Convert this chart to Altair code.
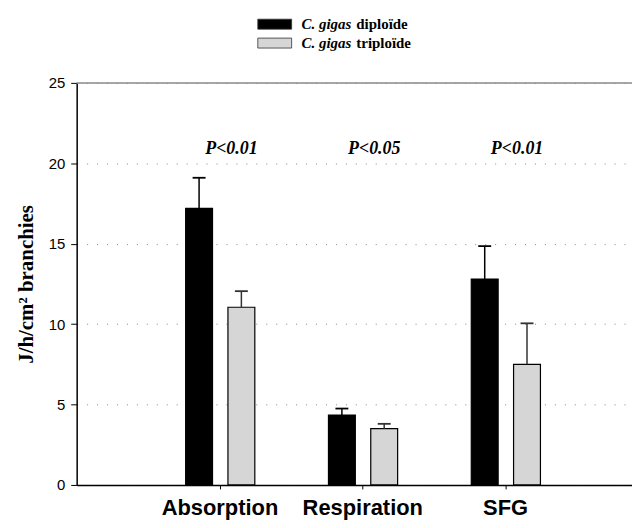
import json
import altair as alt
import pandas as pd

categories = ["Absorption", "Respiration", "SFG"]
diploid = [17.2, 4.35, 12.8]
diploid_err = [1.9, 0.4, 2.05]
triploid = [11.05, 3.5, 7.5]
triploid_err = [1.0, 0.3, 2.55]
pvalues = ["P<0.01", "P<0.05", "P<0.01"]
pvalue_y = [20.9, 20.9, 20.9]
species = "C. gigas"
series = ["diploïde", "triploïde"]
y_ticks = [0, 5, 10, 15, 20, 25]

unit = 143.5  # px per category slot
W, H = 558, 404
offsets = {series[0]: -20.5 / unit, series[1]: 22 / unit}
half = 13.5 / unit
cap = 6.5 / unit

rows = []
for i, c in enumerate(categories):
    for s, vals, errs in ((series[0], diploid, diploid_err), (series[1], triploid, triploid_err)):
        xc = i + 1 + offsets[s]
        rows.append(dict(cat=c, series=s, xc=xc, x0=xc - half, x1=xc + half,
                         v=vals[i], top=vals[i] + errs[i], c0=xc - cap, c1=xc + cap))
df = pd.DataFrame(rows)
pdf = pd.DataFrame({"x": [i + 1 + 12 / unit for i in range(len(categories))],
                    "y": pvalue_y, "t": pvalues})

xscale = alt.Scale(domain=[0, W / unit], nice=False, zero=False)
yscale = alt.Scale(domain=[0, 25], nice=False)
xaxis = alt.Axis(values=[1, 2, 3], labelExpr=f"{json.dumps(categories)}[round(datum.value)-1]",
                 grid=False, tickSize=4, tickColor="black", domainColor="black", domainWidth=1.5,
                 labelFont="Liberation Sans", labelFontWeight="bold", labelFontSize=22,
                 labelColor="black", labelPadding=9, title=None)
yaxis = alt.Axis(values=y_ticks, grid=True, gridDash=[1, 9], gridColor="#888", gridWidth=1,
                 tickSize=6, tickColor="black", domainColor="black", domainWidth=1.5,
                 labelFont="Liberation Sans", labelFontSize=15, labelColor="black", labelPadding=6,
                 title="J/h/cm² branchies", titleFont="Liberation Serif", titleFontWeight="bold",
                 titleFontSize=21, titleColor="black", titlePadding=12)

X = lambda f: alt.X(f, scale=xscale, axis=xaxis)
Y = lambda f: alt.Y(f, scale=yscale, axis=yaxis)

base = alt.Chart(df)

topline = alt.Chart(pd.DataFrame({"y": [25]})).mark_rule(color="#888", strokeWidth=1.5).encode(
    y=Y("y:Q"))

bars = base.mark_bar(stroke="black", strokeWidth=1.2).encode(
    x=X("x0:Q"), x2="x1:Q", y=Y("v:Q"), y2=alt.datum(0),
    color=alt.Color("series:N", scale=alt.Scale(domain=series, range=["#000000", "#d6d6d6"]), legend=None))

err_color = alt.condition(alt.datum.series == series[0], alt.value("#000000"), alt.value("#333333"))
err = base.mark_rule(strokeWidth=1.5).encode(
    x=X("xc:Q"), y=Y("v:Q"), y2="top:Q", color=err_color)
caps = base.mark_rule(strokeWidth=1.8).encode(
    x=X("c0:Q"), x2="c1:Q", y=Y("top:Q"), color=err_color)

ptext = alt.Chart(pdf).mark_text(font="Liberation Serif", fontStyle="italic", fontWeight="bold",
                                 fontSize=18, color="black").encode(x=X("x:Q"), y=Y("y:Q"), text="t:N")

one = pd.DataFrame({"a": [0]})
legend_layers = []
fills = ["#000000", "#d6d6d6"]
for k, s in enumerate(series):
    yc = -59 + k * 19
    legend_layers.append(alt.Chart(one).mark_rect(fill=fills[k], stroke="#333", strokeWidth=0.8).encode(
        x=alt.value(182), x2=alt.value(216), y=alt.value(yc - 5), y2=alt.value(yc + 5)))
    legend_layers.append(alt.Chart(one).mark_text(
        font="Liberation Serif", fontStyle="italic", fontWeight="bold", fontSize=15, align="left",
        baseline="middle", color="black", text=species).encode(x=alt.value(226), y=alt.value(yc)))
    legend_layers.append(alt.Chart(one).mark_text(
        font="Liberation Serif", fontWeight="bold", fontSize=15, align="left",
        baseline="middle", color="black", text=s).encode(x=alt.value(281), y=alt.value(yc)))

chart = alt.layer(topline, bars, err, caps, ptext, *legend_layers).properties(
    width=W, height=H,
    autosize=alt.AutoSizeParams(type="none"),
    padding={"left": 69, "top": 74, "right": 0, "bottom": 40},
).configure_view(stroke=None)

chart.save("out.html", embed_options={"renderer": "svg", "actions": False})
